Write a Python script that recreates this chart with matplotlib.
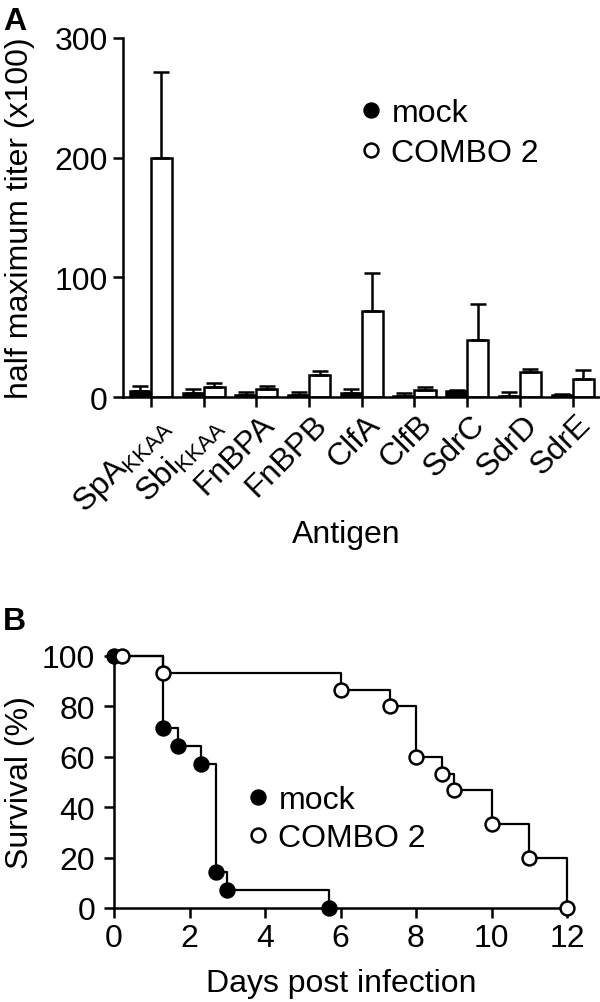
import numpy as np
import matplotlib
matplotlib.use("Agg")
import matplotlib.pyplot as plt
from matplotlib.lines import Line2D
from matplotlib.transforms import ScaledTranslation

# ---------------------------------------------------------------
# Data

# Panel A: half maximum titer (x100)
antigens = [r"SpA$_{\mathregular{KKAA}}$", r"Sbi$_{\mathregular{KKAA}}$", "FnBPA", "FnBPB",
            "ClfA", "ClfB", "SdrC", "SdrD", "SdrE"]
mock_mean = [5, 3, 1.5, 1.5, 3, 1, 5, 1, 2]
mock_err = [4, 3.5, 2.5, 2.5, 4, 2.5, 0.5, 3, 0.5]
combo_mean = [200, 8.4, 6.5, 18, 72, 6, 48, 20.5, 15]
combo_err = [72, 3.5, 2.5, 4, 32, 2.5, 30, 2.5, 7.5]

# Panel B: survival (%)
mock_days = [0, 1.3, 1.7, 2.3, 2.7, 3.0, 5.7]
mock_surv = [100, 71.4, 64.3, 57.1, 14.3, 7.1, 0]
combo_days = [0.2, 1.3, 6.0, 7.3, 8.0, 8.7, 9.0, 10.0, 11.0, 12.0]
combo_surv = [100, 93.3, 86.7, 80, 60, 53.3, 46.7, 33.3, 20, 0]

legend_labels = ["mock", "COMBO 2"]

# ---------------------------------------------------------------
# Style

plt.rcParams['font.family'] = ['Liberation Sans', 'DejaVu Sans']
plt.rcParams['mathtext.default'] = 'regular'
FS = 23
LW = 1.8

fig = plt.figure(figsize=(6, 10.03), dpi=100)
W, H = 600, 1003


def style_axes(ax):
    ax.spines['top'].set_visible(False)
    ax.spines['right'].set_visible(False)
    ax.spines['left'].set_linewidth(LW)
    ax.spines['bottom'].set_linewidth(LW)
    ax.tick_params(direction='out', length=7.5, width=LW, labelsize=FS, color='black')


def marker_handles(ms, mew):
    return [Line2D([], [], ls='none', marker='o', ms=ms, mfc='black', mec='black', mew=mew),
            Line2D([], [], ls='none', marker='o', ms=ms, mfc='white', mec='black', mew=mew)]


# ---------------------------------------------------------------
# Panel A: bar chart

axA = fig.add_axes([123 / W, 1 - 398 / H, (600 - 123) / W, (398 - 39) / H])
style_axes(axA)
x = np.arange(len(antigens))
bw = 0.4
ekw = dict(elinewidth=LW, capthick=LW, capsize=6, ecolor='black')
axA.bar(x - bw / 2, mock_mean, bw, color='black', edgecolor='black', linewidth=LW,
        yerr=[np.zeros(len(x)), mock_err], error_kw=ekw, zorder=2)
axA.bar(x + bw / 2, combo_mean, bw, color='white', edgecolor='black', linewidth=LW,
        yerr=[np.zeros(len(x)), combo_err], error_kw=ekw, zorder=2)
axA.set_xlim(-0.53, 8.52)
axA.set_ylim(0, 300)
axA.set_yticks([0, 100, 200, 300])
axA.set_xticks(x)
axA.set_xticklabels(antigens, rotation=45, rotation_mode='anchor', ha='right', va='top')
axA.tick_params(axis='y', pad=3.5)
axA.tick_params(axis='x', pad=1)
for lbl in axA.get_xticklabels():
    lbl.set_transform(lbl.get_transform() + ScaledTranslation(3 / 100, 0, fig.dpi_scale_trans))

axA.legend(marker_handles(10, 1.8), legend_labels, loc='center left',
           bbox_to_anchor=(361 / W, 1 - 134 / H), bbox_transform=fig.transFigure,
           frameon=False, fontsize=FS, handlelength=0.6, handletextpad=0.35,
           labelspacing=0.32, borderpad=0, borderaxespad=0)

fig.text(20 / W, 1 - 218 / H, "half maximum titer (x100)", rotation=90,
         ha='center', va='center', fontsize=FS)
fig.text(346 / W, 1 - 543 / H, "Antigen", ha='center', va='baseline', fontsize=FS)
fig.text(3 / W, 1 - 30 / H, "A", ha='left', va='baseline', fontsize=FS, fontweight='bold')

# ---------------------------------------------------------------
# Panel B: survival curves

axB = fig.add_axes([114 / W, 1 - 909 / H, (567 - 114) / W, (909 - 657) / H])
style_axes(axB)
for days, surv, face in [(mock_days, mock_surv, 'black'), (combo_days, combo_surv, 'white')]:
    axB.step([0] + days, [surv[0]] + surv, where='post', color='black', lw=1.6,
             clip_on=False, zorder=2)
    axB.plot(days, surv, ls='none', marker='o', ms=10, mfc=face, mec='black', mew=1.8,
             clip_on=False, zorder=3)
axB.set_xlim(0, 12)
axB.set_ylim(0, 100)
axB.set_xticks(np.arange(0, 13, 2))
axB.set_yticks(np.arange(0, 101, 20))
axB.tick_params(axis='y', pad=6)
axB.tick_params(axis='x', pad=3)

axB.legend(marker_handles(10, 1.8), legend_labels, loc='center left',
           bbox_to_anchor=(248 / W, 1 - 820 / H), bbox_transform=fig.transFigure,
           frameon=False, fontsize=FS, handlelength=0.6, handletextpad=0.35,
           labelspacing=0.27, borderpad=0, borderaxespad=0)

fig.text(20 / W, 1 - 783 / H, "Survival (%)", rotation=90, ha='center', va='center', fontsize=FS)
fig.text(341 / W, 1 - 992 / H, "Days post infection", ha='center', va='baseline', fontsize=FS)
fig.text(3 / W, 1 - 630 / H, "B", ha='left', va='baseline', fontsize=FS, fontweight='bold')

fig.savefig("out.png", dpi=100)
